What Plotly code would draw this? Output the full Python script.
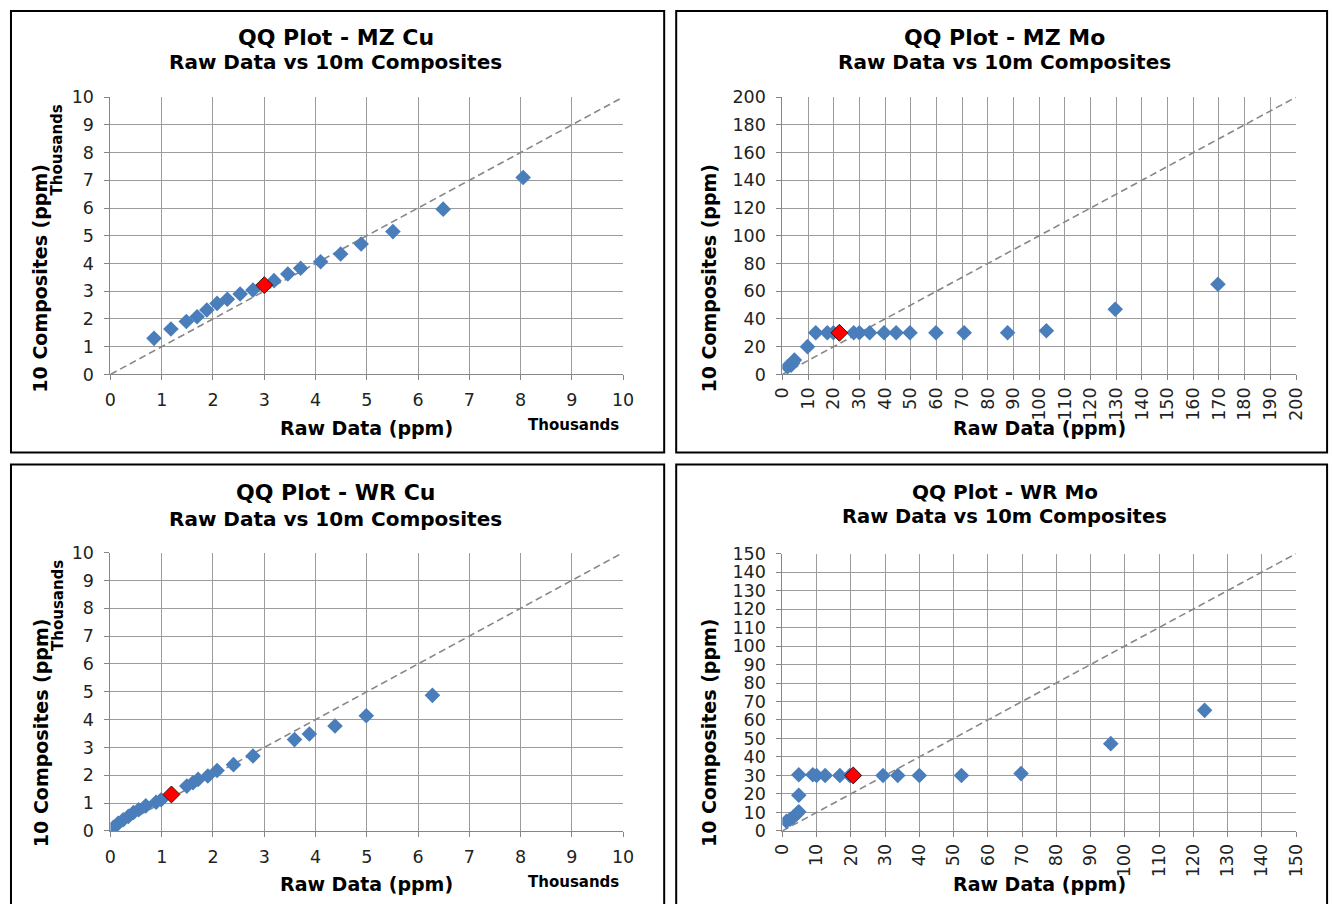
import plotly.graph_objects as go

# Figure size, and the measured mapping from reference pixels to figure pixels
W, H = 1340, 912
SX, CX = 0.983, 9.7
SY, CY = 0.977, 10.0

# ---------------- data ----------------
mzcu_raw = [0.85, 1.18, 1.48, 1.69, 1.88, 2.08, 2.28, 2.53, 2.78, 3.19, 3.46, 3.71, 4.10, 4.49, 4.89, 5.51, 6.49, 8.05]
mzcu_comp = [1.30, 1.64, 1.91, 2.08, 2.32, 2.56, 2.71, 2.90, 3.04, 3.38, 3.62, 3.83, 4.06, 4.34, 4.70, 5.15, 5.96, 7.10]
mzcu_mark = [3.0, 3.22]

mzmo_raw = [2, 3.4, 4, 4.7, 9.8, 13, 17.5, 19.9, 27.8, 30, 34, 39.6, 44.3, 49.7, 59.8, 70.8, 87.7, 102.8, 129.6, 169.6]
mzmo_comp = [5.5, 6.7, 8, 10.3, 20, 30, 30, 30, 30, 30, 30, 30, 30, 30, 30, 30, 30, 31.5, 47, 65]
mzmo_mark = [22.2, 30]

wrcu_raw = [0.06, 0.15, 0.25, 0.35, 0.45, 0.55, 0.69, 0.89, 0.99, 1.49, 1.61, 1.71, 1.90, 2.08, 2.40, 2.78, 3.59, 3.88, 4.38, 4.99, 6.28]
wrcu_comp = [0.13, 0.27, 0.40, 0.52, 0.66, 0.76, 0.90, 1.03, 1.12, 1.61, 1.73, 1.85, 1.97, 2.17, 2.38, 2.69, 3.28, 3.48, 3.77, 4.14, 4.87]
wrcu_mark = [1.19, 1.31]

wrmo_raw = [1.2, 2.3, 3.3, 4.3, 4.8, 4.8, 4.8, 8.9, 10, 12.5, 16.8, 19.7, 29.4, 33.7, 40, 52.3, 69.7, 95.9, 123.3]
wrmo_comp = [5.2, 6.3, 7.6, 9.4, 10.3, 19.3, 30.4, 30.4, 30, 30, 30, 30, 30, 30, 30, 30, 31, 47.2, 65.2]
wrmo_mark = [20.7, 30]

titles = ["QQ Plot - MZ Cu", "QQ Plot - MZ Mo", "QQ Plot - WR Cu", "QQ Plot - WR Mo"]
subtitle = "Raw Data vs 10m Composites"
xlabel = "Raw Data (ppm)"
ylabel = "10 Composites (ppm)"

# ---------------- layout helpers ----------------
FONT = "DejaVu Sans, Verdana, sans-serif"
BLUE = "#4A7EBB"
GRID = "#9C9C9C"
AXC = "#868686"

def px(x):
    return max((x - CX) / SX, 1.0) / W

def py(y):
    return 1 - max((y - CY) / SY, 1.0) / H

panels = [
    dict(data=(mzcu_raw, mzcu_comp, mzcu_mark), rng=10, dx=1, dy=1,
         dom=(110, 622, 97, 374), box=(6, 663, 8, 452), thousands=True, rot=False,
         tcy=37, scy=62, tfs=22, sfs=20, cx=335, ycy=278, ylx=40, xly=428),
    dict(data=(mzmo_raw, mzmo_comp, mzmo_mark), rng=200, dx=10, dy=20,
         dom=(781, 1294, 97, 374), box=(675, 1325, 8, 452), thousands=False, rot=True,
         tcy=37, scy=62, tfs=22, sfs=20, cx=1003, ycy=278, ylx=708, xly=428),
    dict(data=(wrcu_raw, wrcu_comp, wrcu_mark), rng=10, dx=1, dy=1,
         dom=(110, 622, 552, 830), box=(6, 663, 464, 920), thousands=True, rot=False,
         tcy=492, scy=518, tfs=22, sfs=20, cx=335, ycy=732, ylx=40, xly=883),
    dict(data=(wrmo_raw, wrmo_comp, wrmo_mark), rng=150, dx=10, dy=10,
         dom=(781, 1294, 553, 830), box=(675, 1325, 464, 920), thousands=False, rot=True,
         tcy=491, scy=516, tfs=20, sfs=19.5, cx=1003, ycy=732, ylx=708, xly=883),
]

fig = go.Figure()
shapes = []
annotations = []

for i, p in enumerate(panels):
    n = "" if i == 0 else str(i + 1)
    xref, yref = "x" + n, "y" + n
    raw, comp, mark = p["data"]
    rng = p["rng"]
    # 1:1 reference line across the axis range
    fig.add_trace(go.Scatter(x=[0, rng], y=[0, rng], mode="lines",
                             line=dict(color="#878787", width=1.6, dash="7px,4px"),
                             xaxis=xref, yaxis=yref, showlegend=False, hoverinfo="skip"))
    fig.add_trace(go.Scatter(x=raw, y=comp, mode="markers",
                             marker=dict(symbol="diamond", size=12, color=BLUE,
                                         line=dict(width=0)),
                             xaxis=xref, yaxis=yref, showlegend=False))
    fig.add_trace(go.Scatter(x=[mark[0]], y=[mark[1]], mode="markers",
                             marker=dict(symbol="diamond", size=13, color="#FF0000",
                                         line=dict(width=1, color="#3a1010")),
                             xaxis=xref, yaxis=yref, showlegend=False))
    x0, x1, ytop, ybot = p["dom"]
    axcommon = dict(range=[0, rng], showgrid=True, gridcolor=GRID, gridwidth=1,
                    showline=True, linecolor=AXC, linewidth=1, ticks="outside",
                    ticklen=5, tickcolor=AXC, zeroline=False,
                    tickfont=dict(family=FONT, size=17.5, color="#222222"), fixedrange=True)
    xa = dict(axcommon, domain=[px(x0), px(x1)], anchor=yref, dtick=p["dx"], tick0=0,
              tickangle=-90 if p["rot"] else 0, ticklabelstandoff=0 if p["rot"] else 5)
    ya = dict(axcommon, domain=[py(ybot), py(ytop)], anchor=xref, dtick=p["dy"], tick0=0,
              ticklabelstandoff=7)
    fig.layout["xaxis" + n] = xa
    fig.layout["yaxis" + n] = ya

    bx0, bx1, by0, by1 = p["box"]
    shapes.append(dict(type="rect", xref="paper", yref="paper",
                       x0=px(bx0), x1=px(bx1), y0=py(by1), y1=py(by0),
                       line=dict(color="#000000", width=2), fillcolor="rgba(0,0,0,0)"))

    annotations.append(dict(text="<b>%s</b>" % titles[i], x=px(p["cx"]), y=py(p["tcy"]),
                            xref="paper", yref="paper", showarrow=False,
                            font=dict(family=FONT, size=p["tfs"], color="#000000"),
                            xanchor="center", yanchor="middle"))
    annotations.append(dict(text="<b>%s</b>" % subtitle, x=px(p["cx"]), y=py(p["scy"]),
                            xref="paper", yref="paper", showarrow=False,
                            font=dict(family=FONT, size=p["sfs"], color="#000000"),
                            xanchor="center", yanchor="middle"))
    annotations.append(dict(text="<b>%s</b>" % xlabel, x=px((x0 + x1) / 2), y=py(p["xly"]),
                            xref="paper", yref="paper", showarrow=False,
                            font=dict(family=FONT, size=19, color="#000000"),
                            xanchor="center", yanchor="middle"))
    annotations.append(dict(text="<b>%s</b>" % ylabel, x=px(p["ylx"]), y=py(p["ycy"]),
                            xref="paper", yref="paper", showarrow=False, textangle=-90,
                            font=dict(family=FONT, size=19, color="#000000"),
                            xanchor="center", yanchor="middle"))
    if p["thousands"]:
        annotations.append(dict(text="<b>Thousands</b>", x=px(572), y=py(ybot + 51),
                                xref="paper", yref="paper", showarrow=False,
                                font=dict(family=FONT, size=15, color="#000000"),
                                xanchor="center", yanchor="middle"))
        annotations.append(dict(text="<b>Thousands</b>", x=px(57), y=py(ytop + 53),
                                xref="paper", yref="paper", showarrow=False, textangle=-90,
                                font=dict(family=FONT, size=15, color="#000000"),
                                xanchor="center", yanchor="middle"))

fig.update_layout(width=W, height=H, margin=dict(l=0, r=0, t=0, b=0),
                  paper_bgcolor="#FFFFFF", plot_bgcolor="#FFFFFF",
                  shapes=shapes, annotations=annotations, showlegend=False,
                  font=dict(family=FONT))

fig.write_html("out.html", config={"displayModeBar": False})
